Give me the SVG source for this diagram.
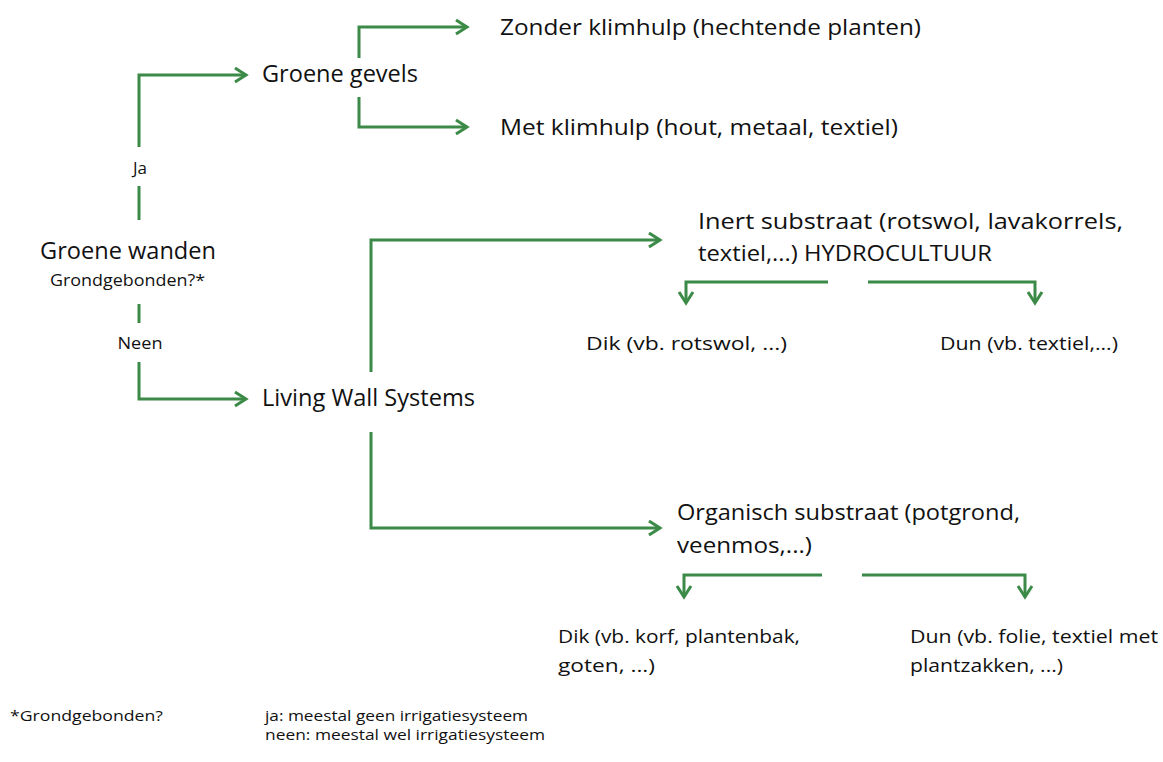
<svg xmlns="http://www.w3.org/2000/svg" width="1163" height="762" viewBox="0 0 1163 762">
<style>
text{font-family:"Open Sans","Liberation Sans",sans-serif;fill:#111}
.l{font-size:23.5px}
.m{font-size:21.5px}
.s{font-size:19px}
.xs{font-size:17px}
.f{font-size:14px}
.c{stroke:#3c8a47;stroke-width:3;fill:none}
</style>
<defs>
<marker id="ah" markerUnits="userSpaceOnUse" markerWidth="16" markerHeight="18" refX="12" refY="8" orient="auto" overflow="visible">
<path d="M1,1 L12,8 L1,15" fill="none" stroke="#3c8a47" stroke-width="3"/>
</marker>
</defs>
<rect width="1163" height="762" fill="#fff"/>
<g id="connectors">
<path class="c" d="M139,147 V75 H246" marker-end="url(#ah)"/>
<path class="c" d="M139,186 V220"/>
<path class="c" d="M139,304 V323"/>
<path class="c" d="M139,362 V399 H246" marker-end="url(#ah)"/>
<path class="c" d="M359,58 V27 H467" marker-end="url(#ah)"/>
<path class="c" d="M359,97 V127 H467" marker-end="url(#ah)"/>
<path class="c" d="M371,372 V240 H660" marker-end="url(#ah)"/>
<path class="c" d="M371,432 V528 H660" marker-end="url(#ah)"/>
<path class="c" d="M828,282 H686 V303" marker-end="url(#ah)"/>
<path class="c" d="M868,282 H1035 V303" marker-end="url(#ah)"/>
<path class="c" d="M822,575 H684 V597" marker-end="url(#ah)"/>
<path class="c" d="M862,575 H1025 V597" marker-end="url(#ah)"/>
</g>
<g id="groene-wanden">
<text class="l" x="40" y="259" textLength="176" lengthAdjust="spacingAndGlyphs">Groene wanden</text>
<text class="xs" x="50" y="286" textLength="155" lengthAdjust="spacingAndGlyphs">Grondgebonden?*</text>
</g>
<g id="label-ja"><text class="xs" x="140" y="174" text-anchor="middle">Ja</text></g>
<g id="label-neen"><text class="xs" x="140" y="349" text-anchor="middle" textLength="45" lengthAdjust="spacingAndGlyphs">Neen</text></g>
<g id="groene-gevels"><text class="l" x="262" y="82" textLength="156" lengthAdjust="spacingAndGlyphs">Groene gevels</text></g>
<g id="living-wall-systems"><text class="l" x="262" y="406" textLength="213" lengthAdjust="spacingAndGlyphs">Living Wall Systems</text></g>
<g id="zonder-klimhulp"><text class="m" x="500" y="35" textLength="421" lengthAdjust="spacingAndGlyphs">Zonder klimhulp (hechtende planten)</text></g>
<g id="met-klimhulp"><text class="m" x="500" y="135" textLength="398" lengthAdjust="spacingAndGlyphs">Met klimhulp (hout, metaal, textiel)</text></g>
<g id="inert-substraat">
<text class="m" x="698" y="229" textLength="425" lengthAdjust="spacingAndGlyphs">Inert substraat (rotswol, lavakorrels,</text>
<text class="m" x="698" y="261" textLength="294" lengthAdjust="spacingAndGlyphs">textiel,...) HYDROCULTUUR</text>
</g>
<g id="inert-dik"><text class="s" x="586" y="350" textLength="201" lengthAdjust="spacingAndGlyphs">Dik (vb. rotswol, ...)</text></g>
<g id="inert-dun"><text class="s" x="940" y="350" textLength="178" lengthAdjust="spacingAndGlyphs">Dun (vb. textiel,...)</text></g>
<g id="organisch-substraat">
<text class="m" x="677" y="520" textLength="343" lengthAdjust="spacingAndGlyphs">Organisch substraat (potgrond,</text>
<text class="m" x="677" y="553" textLength="135" lengthAdjust="spacingAndGlyphs">veenmos,...)</text>
</g>
<g id="organisch-dik">
<text class="s" x="558" y="643" textLength="242" lengthAdjust="spacingAndGlyphs">Dik (vb. korf, plantenbak,</text>
<text class="s" x="558" y="672" textLength="97" lengthAdjust="spacingAndGlyphs">goten, ...)</text>
</g>
<g id="organisch-dun">
<text class="s" x="910" y="643" textLength="248" lengthAdjust="spacingAndGlyphs">Dun (vb. folie, textiel met</text>
<text class="s" x="910" y="672" textLength="153" lengthAdjust="spacingAndGlyphs">plantzakken, ...)</text>
</g>
<g id="footnote">
<text class="f" x="10" y="721" textLength="153" lengthAdjust="spacingAndGlyphs">*Grondgebonden?</text>
<text class="f" x="265" y="721" textLength="263" lengthAdjust="spacingAndGlyphs">ja: meestal geen irrigatiesysteem</text>
<text class="f" x="265" y="740" textLength="280" lengthAdjust="spacingAndGlyphs">neen: meestal wel irrigatiesysteem</text>
</g>
</svg>
